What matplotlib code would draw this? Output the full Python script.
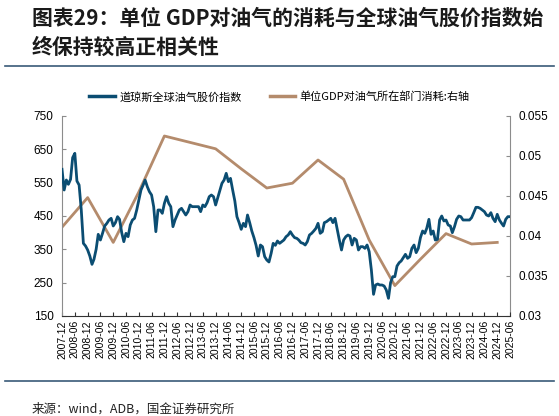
import matplotlib
matplotlib.use("Agg")
import matplotlib.pyplot as plt
import matplotlib.dates as mdates
from matplotlib.lines import Line2D
import pandas as pd

plt.rcParams['font.family'] = ['Liberation Sans', 'Noto Sans CJK SC', 'DejaVu Sans']
CJK = ['Noto Sans CJK SC', 'DejaVu Sans']

# Dow Jones global oil & gas stock index, monthly from 2007-12 to 2025-06
index_2007 = [590]
index_2008 = [528, 558, 545, 560, 625, 638, 555, 543, 468, 368, 360, 348]
index_2009 = [330, 305, 320, 350, 395, 378, 398, 420, 428, 438, 443, 420]
index_2010 = [430, 448, 440, 400, 373, 398, 388, 423, 438, 443, 468, 498]
index_2011 = [528, 543, 558, 538, 523, 513, 478, 403, 468, 468, 458, 488]
index_2012 = [508, 488, 478, 418, 438, 453, 468, 473, 463, 453, 463, 483]
index_2013 = [478, 478, 478, 478, 463, 483, 478, 490, 508, 513, 508, 483]
index_2014 = [505, 528, 548, 558, 578, 553, 563, 528, 495, 448, 430, 410]
index_2015 = [428, 418, 453, 430, 405, 385, 362, 330, 363, 358, 328, 318]
index_2016 = [312, 338, 368, 362, 375, 368, 373, 378, 388, 393, 403, 393]
index_2017 = [385, 383, 378, 370, 368, 363, 373, 393, 398, 405, 413, 428]
index_2018 = [398, 403, 430, 433, 438, 443, 430, 443, 410, 378, 348, 378]
index_2019 = [388, 393, 390, 363, 383, 378, 348, 358, 358, 353, 363, 343]
index_2020 = [288, 215, 243, 246, 243, 243, 240, 228, 203, 250, 268, 268]
index_2021 = [300, 310, 315, 325, 335, 323, 328, 353, 363, 340, 353, 385]
index_2022 = [405, 398, 413, 440, 395, 405, 378, 380, 438, 450, 435, 438]
index_2023 = [423, 420, 400, 418, 440, 450, 448, 438, 438, 438, 438, 445]
index_2024 = [460, 476, 476, 473, 468, 463, 453, 450, 460, 443, 433, 455]
index_2025 = [438, 428, 420, 440, 448, 448]

oil_index = (index_2007 + index_2008 + index_2009 + index_2010 + index_2011
             + index_2012 + index_2013 + index_2014 + index_2015 + index_2016
             + index_2017 + index_2018 + index_2019 + index_2020 + index_2021
             + index_2022 + index_2023 + index_2024 + index_2025)

# Oil & gas consumption per unit GDP (right axis), each December
gdp_years = list(range(2007, 2025))
gdp_consumption = [0.0411, 0.0448, 0.0392, 0.0455, 0.0525, 0.0517, 0.0509,
                   0.0484, 0.0460, 0.0466, 0.0495, 0.0471, 0.0395, 0.0338,
                   0.0371, 0.0403, 0.0390, 0.0392]

months = pd.date_range("2007-12-01", periods=len(oil_index), freq="MS")
gdp_dates = pd.to_datetime([f"{y}-12-01" for y in gdp_years])
tick_dates = months[::6]
tick_labels = [d.strftime("%Y-%m") for d in tick_dates]

BLUE = "#0b4d72"
BROWN = "#b48b6c"
GREY = "#8c8c8c"

fig = plt.figure(figsize=(5.59, 4.16), dpi=100)
ax = fig.add_axes([62 / 559, 1 - 316 / 416, 448 / 559, 200 / 416])
ax2 = ax.twinx()

ax.plot(months, oil_index, color=BLUE, lw=2.0, zorder=3)
ax2.plot(gdp_dates, gdp_consumption, color=BROWN, lw=2.0, zorder=2)
ax.set_zorder(ax2.get_zorder() + 1)
ax.patch.set_visible(False)

ax.set_xlim(months[0], months[-1])
ax.set_ylim(150, 750)
ax.set_yticks(range(150, 751, 100))
ax2.set_ylim(0.03, 0.055)
ax2.set_yticks([0.03, 0.035, 0.04, 0.045, 0.05, 0.055])
ax2.set_yticklabels(["0.03", "0.035", "0.04", "0.045", "0.05", "0.055"])

ax.set_xticks(tick_dates)
ax.set_xticklabels(tick_labels, rotation=90, fontsize=7.5)
ax.tick_params(axis="x", direction="in", length=3, pad=3, color="#333333")
ax.tick_params(axis="y", direction="in", length=3, labelsize=8.5, color=GREY, pad=6)
ax2.tick_params(axis="y", direction="in", length=3, labelsize=8.5, color=GREY, pad=6)

for a in (ax, ax2):
    a.spines["top"].set_visible(False)
ax.spines["right"].set_visible(False)
ax.spines["left"].set_color(GREY)
ax2.spines["left"].set_visible(False)
ax2.spines["right"].set_color(GREY)
ax.spines["bottom"].set_color("#333333")
ax2.spines["bottom"].set_visible(False)

handles = [Line2D([], [], color=BLUE, lw=2.5), Line2D([], [], color=BROWN, lw=2.5)]
labels = ["道琼斯全球油气股价指数", "单位GDP对油气所在部门消耗:右轴"]
fig.legend(handles, labels, loc="center", bbox_to_anchor=(0.5, 1 - 97 / 416),
           ncol=2, frameon=False, prop={"family": CJK, "size": 8},
           handlelength=2.3, columnspacing=2.5, handletextpad=0.4)

fig.text(32 / 559, 1 - 18 / 416, "图表29：单位 GDP对油气的消耗与全球油气股价指数始",
         family=CJK, fontsize=15, fontweight="bold", va="center", ha="left", color="#1a1a1a")
fig.text(32 / 559, 1 - 47 / 416, "终保持较高正相关性",
         family=CJK, fontsize=15, fontweight="bold", va="center", ha="left", color="#1a1a1a")

fig.add_artist(Line2D([5 / 559, 554 / 559], [1 - 66 / 416] * 2, color="#3a5a78", lw=1.2))
fig.add_artist(Line2D([5 / 559, 554 / 559], [1 - 381 / 416] * 2, color="#3a5a78", lw=1.2))
fig.text(32 / 559, 1 - 409 / 416, "来源：wind，ADB，国金证券研究所",
         family=CJK, fontsize=9, va="center", ha="left", color="#222222")

fig.savefig("out.png", dpi=100)
